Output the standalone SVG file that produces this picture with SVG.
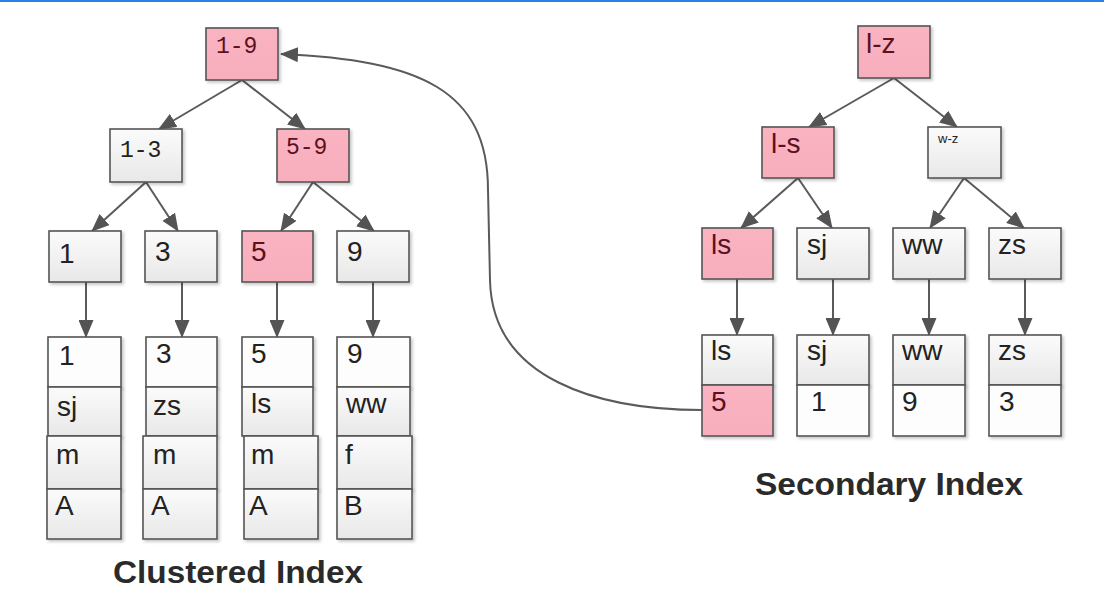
<svg xmlns="http://www.w3.org/2000/svg" width="1104" height="592" viewBox="0 0 1104 592">
<defs>
<linearGradient id="g" x1="0" y1="0" x2="0" y2="1"><stop offset="0" stop-color="#fbfbfb"/><stop offset="1" stop-color="#e8e8e8"/></linearGradient>
<linearGradient id="p" x1="0" y1="0" x2="0" y2="1"><stop offset="0" stop-color="#fab3c1"/><stop offset="1" stop-color="#f7aebd"/></linearGradient>
<filter id="sh" x="-10%" y="-10%" width="130%" height="130%"><feDropShadow dx="2" dy="2" stdDeviation="1.5" flood-color="#000" flood-opacity="0.22"/></filter>
<marker id="ah" markerUnits="userSpaceOnUse" markerWidth="18" markerHeight="15" viewBox="0 0 18 15" refX="17" refY="7.5" orient="auto"><path d="M0,0 L18,7.5 L0,15 z" fill="#545454"/></marker>
</defs>
<style>
.b{stroke:#555;stroke-width:1.6;filter:url(#sh)}
.gr{fill:url(#g)}
.pk{fill:url(#p)}
.wh{fill:#fdfdfd}
.t{font-family:"Liberation Sans",Arial,sans-serif;font-size:28px;fill:#222}
.tp{font-family:"Liberation Sans",Arial,sans-serif;font-size:28px;fill:#5c1020}
.m{font-family:"Liberation Mono","DejaVu Sans Mono",monospace;font-size:23px;fill:#222}
.mp{font-family:"Liberation Mono","DejaVu Sans Mono",monospace;font-size:23px;fill:#5c1020}
.ttl{font-family:"Liberation Sans",Arial,sans-serif;font-size:32px;font-weight:bold;fill:#2a2a2a}
.c{fill:none;stroke:#5a5a5a;stroke-width:2;marker-end:url(#ah)}
</style>
<rect x="0" y="0" width="1104" height="592" fill="#ffffff"/>
<rect x="0" y="0" width="1104" height="2" fill="#2f7fe8"/>

<g id="connectors">
<line class="c" x1="242" y1="80" x2="159" y2="129"/>
<line class="c" x1="242" y1="80" x2="305" y2="129"/>
<line class="c" x1="146" y1="182" x2="92" y2="231"/>
<line class="c" x1="146" y1="182" x2="178" y2="231"/>
<line class="c" x1="313" y1="182" x2="281" y2="231"/>
<line class="c" x1="313" y1="182" x2="374" y2="231"/>
<line class="c" x1="86" y1="282" x2="86" y2="337"/>
<line class="c" x1="182" y1="282" x2="182" y2="337"/>
<line class="c" x1="277" y1="282" x2="277" y2="337"/>
<line class="c" x1="373" y1="282" x2="373" y2="337"/>
<line class="c" x1="894" y1="78" x2="809" y2="127"/>
<line class="c" x1="894" y1="78" x2="957" y2="127"/>
<line class="c" x1="798" y1="178" x2="741" y2="228"/>
<line class="c" x1="798" y1="178" x2="832" y2="228"/>
<line class="c" x1="964" y1="178" x2="930" y2="228"/>
<line class="c" x1="964" y1="178" x2="1024" y2="228"/>
<line class="c" x1="737" y1="279" x2="737" y2="335"/>
<line class="c" x1="833" y1="279" x2="833" y2="335"/>
<line class="c" x1="929" y1="279" x2="929" y2="335"/>
<line class="c" x1="1025" y1="279" x2="1025" y2="335"/>
<path class="c" d="M 702 410 C 600 410 492 380 490 280 L 488 190 C 488 90 420 60 281 54"/>
</g>

<g id="c-root"><rect class="b pk" x="206" y="28" width="72" height="52"/><text class="mp" x="216" y="53">1-9</text></g>
<g id="c-1-3"><rect class="b gr" x="110" y="129" width="72" height="53"/><text class="m" x="120" y="157">1-3</text></g>
<g id="c-5-9"><rect class="b pk" x="277" y="129" width="72" height="53"/><text class="mp" x="286" y="154">5-9</text></g>

<g id="c-leaf-1"><rect class="b gr" x="49" y="231" width="72" height="51"/><text class="t" x="59" y="263">1</text></g>
<g id="c-leaf-3"><rect class="b gr" x="145" y="231" width="72" height="51"/><text class="t" x="155" y="261">3</text></g>
<g id="c-leaf-5"><rect class="b pk" x="242" y="231" width="71" height="51"/><text class="tp" x="251" y="261">5</text></g>
<g id="c-leaf-9"><rect class="b gr" x="337" y="231" width="72" height="51"/><text class="t" x="347" y="261">9</text></g>

<g id="c-row-1">
<rect class="b wh" x="48" y="337" width="73" height="50"/>
<rect class="b gr" x="48" y="387" width="73" height="49"/>
<rect class="b gr" x="47" y="436" width="74" height="53"/>
<rect class="b gr" x="47" y="489" width="74" height="50"/>
<text class="t" x="59" y="365">1</text><text class="t" x="57" y="416">sj</text><text class="t" x="56" y="464">m</text><text class="t" x="55" y="515">A</text>
</g>
<g id="c-row-3">
<rect class="b wh" x="146" y="337" width="71" height="50"/>
<rect class="b gr" x="146" y="387" width="71" height="49"/>
<rect class="b gr" x="143" y="436" width="74" height="53"/>
<rect class="b gr" x="143" y="489" width="74" height="50"/>
<text class="t" x="156" y="363">3</text><text class="t" x="153" y="415">zs</text><text class="t" x="153" y="464">m</text><text class="t" x="151" y="515">A</text>
</g>
<g id="c-row-5">
<rect class="b wh" x="242" y="337" width="71" height="50"/>
<rect class="b gr" x="242" y="387" width="71" height="49"/>
<rect class="b gr" x="244" y="436" width="74" height="53"/>
<rect class="b gr" x="244" y="489" width="74" height="50"/>
<text class="t" x="251" y="363">5</text><text class="t" x="251" y="413">ls</text><text class="t" x="251" y="464">m</text><text class="t" x="249" y="515">A</text>
</g>
<g id="c-row-9">
<rect class="b wh" x="337" y="337" width="73" height="50"/>
<rect class="b gr" x="337" y="387" width="73" height="49"/>
<rect class="b gr" x="337" y="436" width="75" height="53"/>
<rect class="b gr" x="337" y="489" width="75" height="50"/>
<text class="t" x="347" y="363">9</text><text class="t" x="346" y="413">ww</text><text class="t" x="345" y="464">f</text><text class="t" x="344" y="515">B</text>
</g>

<g id="s-root"><rect class="b pk" x="858" y="26" width="72" height="52"/><text class="tp" x="866" y="53">l-z</text></g>
<g id="s-l-s"><rect class="b pk" x="762" y="127" width="72" height="51"/><text class="tp" x="771" y="153">l-s</text></g>
<g id="s-w-z"><rect class="b gr" x="928" y="127" width="73" height="51"/><text x="938" y="143" font-family="Liberation Sans, Arial, sans-serif" font-size="13" fill="#222">w-z</text></g>

<g id="s-leaf-ls"><rect class="b pk" x="702" y="228" width="71" height="51"/><text class="tp" x="711" y="254">ls</text></g>
<g id="s-leaf-sj"><rect class="b gr" x="797" y="228" width="72" height="51"/><text class="t" x="807" y="254">sj</text></g>
<g id="s-leaf-ww"><rect class="b gr" x="893" y="228" width="72" height="51"/><text class="t" x="902" y="254">ww</text></g>
<g id="s-leaf-zs"><rect class="b gr" x="989" y="228" width="72" height="51"/><text class="t" x="998" y="254">zs</text></g>

<g id="s-row-ls"><rect class="b gr" x="702" y="335" width="71" height="50"/><rect class="b pk" x="702" y="385" width="71" height="51"/><text class="t" x="711" y="360">ls</text><text class="tp" x="711" y="411">5</text></g>
<g id="s-row-sj"><rect class="b gr" x="797" y="335" width="72" height="50"/><rect class="b wh" x="797" y="385" width="72" height="51"/><text class="t" x="807" y="360">sj</text><text class="t" x="811" y="411" fill="#1a1a5a">1</text></g>
<g id="s-row-ww"><rect class="b gr" x="893" y="335" width="72" height="50"/><rect class="b wh" x="893" y="385" width="72" height="51"/><text class="t" x="902" y="360">ww</text><text class="t" x="902" y="411">9</text></g>
<g id="s-row-zs"><rect class="b gr" x="989" y="335" width="72" height="50"/><rect class="b wh" x="989" y="385" width="72" height="51"/><text class="t" x="998" y="360">zs</text><text class="t" x="999" y="411">3</text></g>

<text class="ttl" x="113" y="583" textLength="250" lengthAdjust="spacingAndGlyphs">Clustered Index</text>
<text class="ttl" x="755" y="495" textLength="268" lengthAdjust="spacingAndGlyphs">Secondary Index</text>
</svg>
